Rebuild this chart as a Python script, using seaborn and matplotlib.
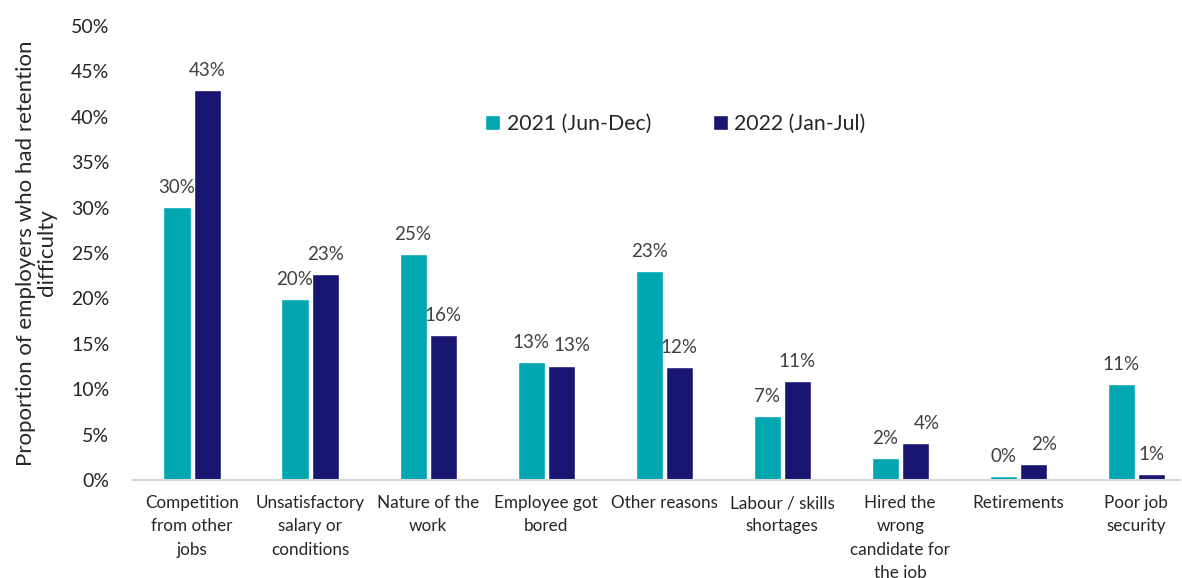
import matplotlib
matplotlib.use("Agg")
import matplotlib.pyplot as plt
import seaborn as sns
import pandas as pd

categories = [
    "Competition\nfrom other\njobs",
    "Unsatisfactory\nsalary or\nconditions",
    "Nature of the\nwork",
    "Employee got\nbored",
    "Other reasons",
    "Labour / skills\nshortages",
    "Hired the\nwrong\ncandidate for\nthe job",
    "Retirements",
    "Poor job\nsecurity",
]
series_names = ["2021 (Jun-Dec)", "2022 (Jan-Jul)"]
values_2021 = [30.1, 19.9, 24.9, 13.0, 23.0, 7.0, 2.4, 0.4, 10.6]
values_2022 = [42.9, 22.7, 16.0, 12.6, 12.4, 10.9, 4.1, 1.8, 0.7]
y_ticks = [0, 5, 10, 15, 20, 25, 30, 35, 40, 45, 50]
colors = ["#00A7B0", "#181670"]

sns.set_theme(style="white")
plt.rcParams["font.family"] = ["Lato", "DejaVu Sans"]

df = pd.DataFrame({
    "category": categories * 2,
    "series": [series_names[0]] * len(categories) + [series_names[1]] * len(categories),
    "value": values_2021 + values_2022,
})

fig = plt.figure(figsize=(11.82, 5.78), dpi=100)
ax = fig.add_axes([133 / 1182, 1 - 480 / 578, (1180 - 133) / 1182, (480 - 26) / 578])

sns.barplot(data=df, x="category", y="value", hue="series", palette=colors,
            width=0.51, gap=0.1, ax=ax, order=categories, hue_order=series_names,
            saturation=1, errorbar=None)

# data labels; nudge the second label right when the pair would collide
c1, c2 = ax.containers[0], ax.containers[1]
for i, (b1, b2) in enumerate(zip(c1, c2)):
    h1, h2 = b1.get_height(), b2.get_height()
    close = abs(h1 - h2) < 2
    for b, h, dx in ((b1, h1, 0), (b2, h2, 8 if close else 0)):
        ax.annotate(f"{round(h)}%", xy=(b.get_x() + b.get_width() / 2, h),
                    xytext=(dx, 8), textcoords="offset points", ha="center", va="bottom",
                    fontsize=13.5, color="#404040")

ax.set_ylim(0, 50)
ax.set_xlim(-0.5, 8.37)
ax.set_yticks(y_ticks)
ax.set_yticklabels([f"{t}%" for t in y_ticks], fontsize=14, color="#262626")
ax.tick_params(axis="y", length=0, pad=17)
ax.tick_params(axis="x", length=0, pad=11, labelsize=12.3, labelcolor="#262626")
for lab in ax.get_xticklabels():
    lab.set_linespacing(1.55)
    lab.set_verticalalignment("top")

ax.set_xlabel("")
ax.set_ylabel("Proportion of employers who had retention\ndifficulty", fontsize=16,
              color="#262626", labelpad=10, linespacing=1.05)

for s in ["top", "right", "left"]:
    ax.spines[s].set_visible(False)
ax.spines["bottom"].set_color("#d9d9d9")
ax.spines["bottom"].set_linewidth(1.5)

leg = ax.legend(loc="center", bbox_to_anchor=(0.518, 0.784), ncol=2, frameon=False,
                fontsize=15.3, handlelength=0.7, handleheight=0.7, columnspacing=2.9,
                handletextpad=0.3)
for t in leg.get_texts():
    t.set_color("#262626")

fig.savefig("out.png", dpi=100)
